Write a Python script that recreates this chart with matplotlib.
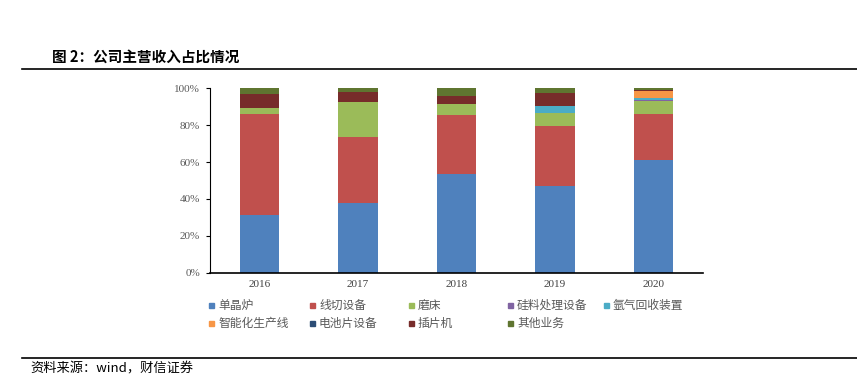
import numpy as np
import matplotlib
matplotlib.use("Agg")
from matplotlib import pyplot as plt
from matplotlib.patches import Rectangle
from matplotlib.lines import Line2D

plt.rcParams['font.family'] = ['Noto Sans CJK SC', 'DejaVu Sans']

# 数据（百分比，从图上估读）
years = ['2016', '2017', '2018', '2019', '2020']
series_names = ['单晶炉', '线切设备', '磨床', '硅料处理设备', '氩气回收装置',
                '智能化生产线', '电池片设备', '插片机', '其他业务']
danjinglu = [31.3, 37.6, 53.5, 47.0, 61.1]
xianqie = [54.6, 36.0, 32.0, 32.6, 25.0]
mochuang = [3.6, 18.8, 5.8, 7.2, 7.0]
guiliao = [0.0, 0.0, 0.0, 0.0, 0.8]
yaqi = [0.0, 0.0, 0.0, 3.6, 1.1]
zhineng = [0.0, 0.0, 0.0, 0.0, 3.4]
dianchi = [0.0, 0.0, 0.0, 0.0, 0.2]
chapian = [7.2, 5.6, 4.7, 6.9, 0.5]
qita = [3.3, 2.0, 4.0, 2.7, 0.9]
colors = ['#4F81BD', '#C0504D', '#9BBB59', '#8064A2', '#4BACC6',
          '#F79646', '#2C4D75', '#772C2A', '#5F7530']

data = [danjinglu, xianqie, mochuang, guiliao, yaqi, zhineng, dianchi, chapian, qita]

fig = plt.figure(figsize=(8.57, 3.77), dpi=100)
ax = fig.add_axes([0.245, 0.2767, 0.575, 0.4891])

x = np.arange(len(years))
bottom = np.zeros(len(years))
for name, vals, c in zip(series_names, data, colors):
    ax.bar(x, vals, width=0.4, bottom=bottom, color=c, label=name,
           edgecolor='none')
    bottom += np.array(vals)

ax.set_xlim(-0.5, len(years) - 0.5)
ax.set_ylim(0, 100)
ax.set_yticks(range(0, 101, 20))
ax.set_yticklabels(['%d%%' % v for v in range(0, 101, 20)],
                   family='Liberation Serif', fontsize=8, color='#595959')
ax.set_xticks(x)
ax.set_xticklabels(years, family='Liberation Serif', fontsize=8, color='#404040')
ax.tick_params(axis='x', length=0, pad=5)
ax.tick_params(axis='y', length=3, width=0.8, direction='out', pad=4)
for s in ['top', 'right']:
    ax.spines[s].set_visible(False)
ax.spines['left'].set_linewidth(0.8)
ax.spines['bottom'].set_linewidth(1.2)

# 图例（Excel 样式，等距排列）
col_x = [209, 310, 409, 508, 604]
row_y = [305, 323]
W, H = 857.0, 377.0
for i, (name, c) in enumerate(zip(series_names, colors)):
    cx = col_x[i % 5]
    cy = row_y[i // 5]
    fig.patches.append(Rectangle((cx / W, (H - cy - 2.5) / H), 5 / W, 5 / H,
                                 transform=fig.transFigure, color=c))
    fig.text((cx + 9) / W, (H - cy) / H, name, fontsize=8.5, color='#595959',
             va='center', ha='left')

# 标题与来源
fig.text(52 / W, (H - 57) / H, '图 2：公司主营收入占比情况', fontsize=10.5,
         fontweight='bold', va='center', ha='left', color='black')
fig.add_artist(Line2D([22 / W, 1.0], [(H - 69) / H] * 2, color='black', lw=1.2,
                      transform=fig.transFigure))
fig.add_artist(Line2D([22 / W, 1.0], [(H - 358) / H] * 2, color='black', lw=1.2,
                      transform=fig.transFigure))
fig.text(30 / W, (H - 369) / H, '资料来源：wind，财信证券', fontsize=9.5,
         style='italic', va='center', ha='left', color='black')

fig.savefig('out.png', dpi=100)
